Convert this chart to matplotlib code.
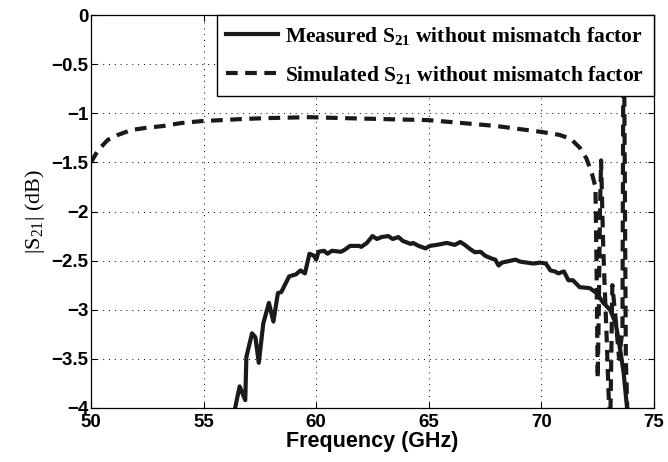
import matplotlib
matplotlib.use("Agg")
import matplotlib.pyplot as plt

plt.rcParams['mathtext.fontset'] = 'custom'
plt.rcParams['mathtext.rm'] = 'Liberation Serif'
plt.rcParams['mathtext.bf'] = 'Liberation Serif:bold'
plt.rcParams['mathtext.it'] = 'Liberation Serif:italic'

# Simulated S21 (dB)
sim_f = [50.0, 50.3, 50.75, 51.2, 51.8, 52.4, 53.2, 54.0, 54.9, 55.8, 56.6, 57.7,
         58.7, 59.7, 60.5, 61.3, 62.2, 63.1, 64.0, 65.0, 66.0, 67.0, 68.0, 69.0,
         70.0, 70.8, 71.3, 71.7, 72.0, 72.25, 72.4, 72.45, 72.5, 72.55, 72.6, 72.65,
         72.75, 72.9, 73.05, 73.15, 73.3, 73.45, 73.6, 73.65, 73.75, 73.85]
sim_db = [-1.50, -1.38, -1.27, -1.22, -1.17, -1.15, -1.13, -1.10, -1.08, -1.07, -1.06, -1.05,
          -1.045, -1.04, -1.045, -1.05, -1.055, -1.06, -1.065, -1.07, -1.09, -1.11, -1.13, -1.16,
          -1.19, -1.22, -1.26, -1.35, -1.46, -1.62, -1.75, -2.6, -3.7, -3.0, -2.0, -1.48,
          -2.4, -3.3, -4.3, -2.75, -3.1, -3.5, -3.2, 0.5, -3.5, -4.3]

# Measured S21 (dB)
meas_f = [56.4, 56.6, 56.85, 56.9, 57.15, 57.3, 57.45, 57.65, 57.9, 58.1, 58.3, 58.45,
          58.8, 59.1, 59.3, 59.5, 59.7, 59.9, 60.0, 60.1, 60.35, 60.5, 60.7, 61.1, 61.3,
          61.5, 61.9, 62.0, 62.25, 62.5, 62.7, 62.9, 63.2, 63.4, 63.65, 63.85, 64.2, 64.3,
          64.55, 64.85, 65.05, 65.35, 65.8, 66.15, 66.4, 66.6, 66.85, 67.05, 67.3, 67.5,
          67.8, 67.95, 68.1, 68.25, 68.45, 68.85, 69.05, 69.35, 69.65, 69.95, 70.2, 70.4,
          70.6, 70.75, 71.0, 71.2, 71.4, 71.7, 72.15, 72.45, 72.75, 73.05, 73.3, 73.5,
          73.65, 73.8]
meas_db = [-4.0, -3.78, -3.92, -3.48, -3.24, -3.28, -3.54, -3.14, -2.93, -3.12, -2.83, -2.82,
           -2.66, -2.64, -2.60, -2.63, -2.43, -2.45, -2.49, -2.41, -2.40, -2.43, -2.40, -2.41, -2.385,
           -2.35, -2.35, -2.36, -2.32, -2.25, -2.28, -2.26, -2.25, -2.28, -2.26, -2.30, -2.33, -2.32,
           -2.35, -2.375, -2.35, -2.34, -2.32, -2.34, -2.31, -2.34, -2.385, -2.415, -2.41, -2.45,
           -2.48, -2.49, -2.55, -2.52, -2.51, -2.49, -2.51, -2.52, -2.53, -2.52, -2.53, -2.60,
           -2.61, -2.63, -2.61, -2.70, -2.70, -2.77, -2.78, -2.83, -2.93, -3.00, -3.14, -3.41,
           -3.64, -3.99]

x_ticks = [50, 55, 60, 65, 70, 75]
y_ticks = [0, -0.5, -1, -1.5, -2, -2.5, -3, -3.5, -4]
y_tick_labels = ['0', '\u22120.5', '\u22121', '\u22121.5', '\u22122', '\u22122.5', '\u22123', '\u22123.5', '\u22124']

fig = plt.figure(figsize=(6.68, 4.62), dpi=100)
ax = fig.add_axes([91/668, 1-408/462, (654-91)/668, (408-15)/462])

ax.plot(meas_f, meas_db, color='#1a1a1a', lw=3.0, solid_joinstyle='round',
        label=r'Measured S$_{\mathbf{21}}$ without mismatch factor')
ax.plot(sim_f, sim_db, color='#1a1a1a', lw=3.0, linestyle=(0, (2.8, 1.8)),
        label=r'Simulated S$_{\mathbf{21}}$ without mismatch factor')

ax.set_xlim(50, 75)
ax.set_ylim(-4, 0)
ax.set_xticks(x_ticks)
ax.set_yticks(y_ticks)
ax.set_yticklabels(y_tick_labels)

for lab in ax.get_xticklabels() + ax.get_yticklabels():
    lab.set_fontfamily('Liberation Sans')
    lab.set_fontweight('bold')
    lab.set_fontsize(13.5)

ax.tick_params(direction='in', top=True, right=True, length=4, width=0.8, colors='black')
ax.tick_params(axis='x', pad=4.5)
ax.tick_params(axis='y', pad=2)
ax.grid(True, linestyle=(0, (1, 5)), color='black', lw=0.7)
for s in ax.spines.values():
    s.set_linewidth(0.9)

ax.set_xlabel('Frequency (GHz)', fontfamily='Liberation Sans', fontweight='bold', fontsize=15.5, labelpad=0)
ax.set_ylabel(r'|S$_{\mathregular{21}}$| (dB)', fontfamily='Liberation Serif', fontsize=16, labelpad=3)

leg = ax.legend(loc='upper right', bbox_to_anchor=(1.0, 1.0), borderaxespad=0,
                prop=dict(family='Liberation Serif', weight='bold', size=15.5),
                fancybox=False, edgecolor='black', framealpha=1, handlelength=2.4,
                handletextpad=0.35, labelspacing=0.8, borderpad=0.45)
leg.get_frame().set_linewidth(1.0)

fig.savefig('out.png', dpi=100)
